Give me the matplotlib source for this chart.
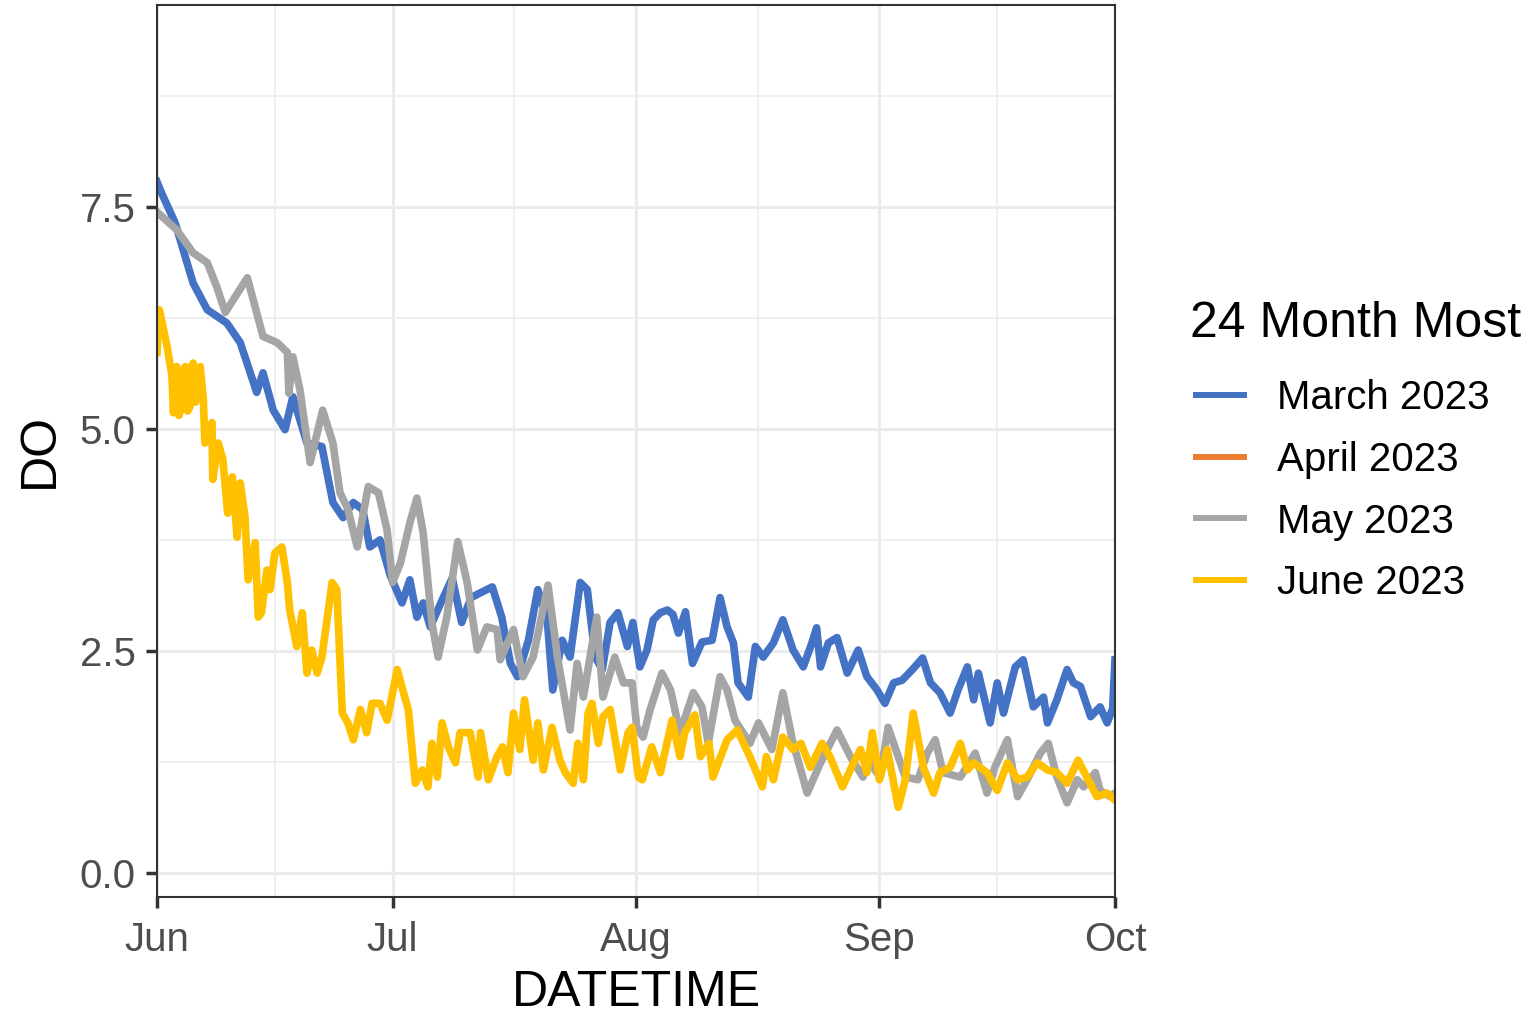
import numpy as np
import pandas as pd
import matplotlib
matplotlib.use("Agg")
import matplotlib.pyplot as plt
import matplotlib.dates as mdates
from matplotlib.lines import Line2D

plt.rcParams['font.family'] = ['Liberation Sans', 'DejaVu Sans']

# days after 2023-06-01 and DO values
march_days = [0, 0.6, 2.3, 4.6, 6.4, 8.9, 10.6, 12.7, 13.5, 14.8, 16.3, 17.3, 19.1, 21, 22.4,
              23.7, 25, 26.2, 27.1, 28.4, 29.7, 31.2, 32.2, 33.1, 33.9, 34.8, 36.3, 37.6,
              38.8, 40, 41.1, 42.7, 43.9, 45, 45.9, 47.3, 48.5, 49.7, 50.4, 51.6, 52.6,
              53.9, 54.8, 55.8, 56.7, 57.7, 58.7, 59.9, 60.6, 61.5, 62.4, 63.2, 64.1, 65,
              65.7, 66.4, 67.3, 68.2, 69.4, 70.7, 71.7, 72.6, 73.4, 74, 75.3, 76.2, 77.2,
              78.5, 79.7, 81, 82.3, 83.4, 84, 84.5, 85.5, 86.6, 87.9, 89.3, 90.4, 91.7,
              92.7, 93.8, 94.9, 96.2, 97.5, 98.5, 99.7, 101, 102, 103.2, 104, 104.6, 106.1,
              107, 107.8, 109.3, 110.3, 111.6, 112.9, 113.4, 114.6, 115.9, 116.7, 117.6,
              118.9, 120.1, 121, 121.7, 122]
march_do = [7.78, 7.65, 7.32, 6.64, 6.34, 6.19, 5.97, 5.41, 5.63, 5.21, 4.99, 5.36, 4.84, 4.80, 4.17,
            4.0, 4.17, 4.09, 3.67, 3.75, 3.35, 3.04, 3.3, 2.88, 3.04, 2.77, 3.07, 3.32,
            2.82, 3.1, 3.15, 3.22, 2.88, 2.36, 2.21, 2.62, 3.19, 2.85, 2.06, 2.62, 2.43,
            3.27, 3.19, 2.43, 2.29, 2.82, 2.93, 2.55, 2.82, 2.32, 2.51, 2.85, 2.93, 2.96,
            2.91, 2.7, 2.94, 2.36, 2.6, 2.62, 3.1, 2.77, 2.59, 2.14, 1.98, 2.55, 2.43,
            2.59, 2.85, 2.51, 2.32, 2.59, 2.76, 2.32, 2.59, 2.65, 2.25, 2.51, 2.21, 2.06,
            1.91, 2.14, 2.17, 2.29, 2.42, 2.14, 2.03, 1.8, 2.06, 2.32, 1.95, 2.25, 1.69,
            2.14, 1.8, 2.32, 2.4, 1.87, 1.98, 1.69, 1.95, 2.29, 2.14, 2.1,
            1.76, 1.87, 1.69, 1.85, 2.4]

may_days = [0, 2.5, 4.6, 6.4, 7.6, 8.7, 9.7, 11.5, 13.5, 15.3, 16.6, 16.8, 17.3, 18.2, 19.5,
            21.1, 22.4, 23.3, 24.3, 25.5, 26.9, 28.2, 29.3, 30, 31, 32.2, 33.1, 33.9, 35,
            35.8, 36.9, 38.3, 39.5, 40.8, 42, 43.3, 43.7, 45.4, 46.6, 47.9, 49.8, 51,
            52.6, 53.5, 54.3, 56, 56.8, 58.3, 59.4, 60.5, 61.1, 61.9, 62.8, 64.3, 65.4,
            66.6, 68.3, 69.4, 70.2, 71.7, 72.6, 73.6, 75.5, 76.6, 78.3, 79.7, 80.9, 82.8,
            84.5, 86.6, 88.3, 89.9, 90.5, 92.1, 93.1, 94.4, 95.3, 96.9, 98.1, 99.1, 100.1,
            102.3, 104.2, 105.7, 106.7, 108.3, 109.6, 110.8, 112.5, 113.5, 114.6, 115.9,
            117.2, 118, 119.5, 120.1, 121.4, 122]
may_do = [7.44, 7.24, 6.98, 6.87, 6.6, 6.31, 6.45, 6.7, 6.04, 5.97, 5.86, 5.4, 5.81, 5.44, 4.62,
          5.21, 4.84, 4.28, 4.1, 3.67, 4.35, 4.28, 3.86, 3.27, 3.49, 3.94, 4.22, 3.83, 2.82,
          2.43, 2.88, 3.73, 3.27, 2.51, 2.77, 2.74, 2.4, 2.74, 2.21, 2.43, 3.24, 2.43,
          1.61, 2.36, 1.98, 2.88, 1.98, 2.43, 2.14, 2.14, 1.64, 1.53, 1.84, 2.25, 2.06,
          1.58, 2.03, 1.87, 1.46, 2.21, 2.06, 1.72, 1.46, 1.69, 1.39, 2.03, 1.5, 0.9,
          1.24, 1.61, 1.31, 1.08, 1.27, 1.08, 1.64, 1.31, 1.08, 1.05, 1.35, 1.5, 1.13,
          1.08, 1.35, 0.9, 1.19, 1.5, 0.86, 1.05, 1.35, 1.46, 1.08, 0.79,
          1.05, 0.97, 1.13, 0.93, 0.86, 0.9]

june_days = [0, 0.3, 1.3, 1.9, 2.1, 2.3, 2.5, 2.8, 3.0, 3.2, 3.4, 3.6, 3.9, 4.2, 4.4, 4.6,
             4.9, 5.2, 5.5, 5.9, 6.1, 7, 7.1, 7.8, 8.4, 9,
             9.6, 10.2, 10.6, 11.2, 11.6, 12.5, 12.9, 13.3, 14, 14.4, 15, 15.9, 16.6, 16.9,
             17.8, 18.5, 19.1, 19.7, 20.4, 21, 21.7, 22.3, 22.9, 23.6, 24.3, 25, 25.9,
             26.7, 27.4, 28.4, 29.3, 30.6, 31.3, 32, 32.9, 33.8, 34.5, 35, 35.7, 36.3,
             37.1, 38, 38.6, 39.9, 40.9, 41.2, 42.2, 43.3, 44, 44.7, 45.4, 46.2, 46.8,
             47.9, 48.5, 49.2, 50.3, 51.3, 52, 53, 53.6, 54.3, 54.9, 55.4, 56.2, 56.8,
             57.7, 59, 60, 60.5, 61.3, 61.8, 63, 64.1, 65.6, 66.6, 67.2, 68.5, 69.2, 70.3,
             70.8, 72.6, 73.9, 75.5, 77.1, 77.6, 78.5, 79.7, 81, 82, 83.2, 84.7, 85.7,
             87.3, 88.7, 89.6, 90.4, 91.1, 92, 93, 94.4, 95.3, 96.3, 97.6, 98.9, 99.7,
             101, 102.3, 103.2, 104, 105.7, 107, 108.3, 109.6, 110.8, 112.1, 113.4, 114.6,
             115.9, 117.3, 118.4, 119.7, 121, 122]
june_do = [5.86, 6.34, 5.92, 5.6, 5.18, 5.65, 5.7, 5.15, 5.6, 5.21, 5.65, 5.7, 5.2, 5.25, 5.7, 5.74,
           5.3, 5.65, 5.7, 5.33, 4.84, 5.07, 4.43, 4.84, 4.65, 4.05,
           4.46, 3.78, 4.39, 4.01, 3.3, 3.72, 2.88, 2.93, 3.41, 3.19, 3.6, 3.67, 3.27, 2.96,
           2.55, 2.93, 2.25, 2.51, 2.25, 2.43, 2.88, 3.27, 3.19, 1.8, 1.69, 1.5, 1.84,
           1.58, 1.91, 1.91, 1.72, 2.29, 2.06, 1.84, 1.01, 1.16, 0.97, 1.46, 1.08, 1.69,
           1.42, 1.24, 1.58, 1.58, 1.08, 1.58, 1.05, 1.31, 1.42, 1.13, 1.8, 1.39, 1.95,
           1.27, 1.69, 1.16, 1.64, 1.27, 1.13, 1.01, 1.46, 1.05, 1.8, 1.91, 1.46, 1.76,
           1.84, 1.16, 1.58, 1.64, 1.08, 1.05, 1.42, 1.13, 1.72, 1.31, 1.58, 1.78, 1.31, 1.46,
           1.08, 1.5, 1.61, 1.31, 0.97, 1.31, 1.05, 1.53, 1.39, 1.46, 1.19, 1.46, 1.31,
           0.97, 1.24, 1.39, 1.13, 1.58, 1.05, 1.39, 0.74, 1.05, 1.8, 1.19, 0.9, 1.13,
           1.19, 1.46, 1.16, 1.24, 1.13, 0.93, 1.24, 1.05, 1.08, 1.24, 1.16, 1.13,
           1.01, 1.27, 1.08, 0.86, 0.9, 0.82]

labels = ['March 2023', 'April 2023', 'May 2023', 'June 2023']
colors = ['#4472C4', '#ED7D31', '#A5A5A5', '#FFC000']

start = pd.Timestamp('2023-06-01')


def to_dates(days):
    return start + pd.to_timedelta(np.array(days), unit='D')


fig = plt.figure(figsize=(15.35, 10.15), dpi=100)
ax = fig.add_axes([157 / 1535, 118 / 1015, 958 / 1535, 892 / 1015])

lw = 5.5
ax.plot(to_dates(march_days), march_do, color=colors[0], lw=lw, solid_joinstyle='round')
ax.plot(to_dates(may_days), may_do, color=colors[2], lw=lw, solid_joinstyle='round')
ax.plot(to_dates(june_days), june_do, color=colors[3], lw=lw, solid_joinstyle='round')

ax.set_xlim(start, pd.Timestamp('2023-10-01'))
ax.set_ylim(-0.27, 9.77)

months = pd.date_range('2023-06-01', '2023-10-01', freq='MS')
ax.set_xticks(months)
ax.xaxis.set_major_formatter(mdates.DateFormatter('%b'))
ax.set_xticks(months[:-1] + (months[1:] - months[:-1]) / 2, minor=True)
ax.set_yticks([0, 2.5, 5.0, 7.5])
ax.set_yticklabels(['0.0', '2.5', '5.0', '7.5'])
ax.set_yticks([1.25, 3.75, 6.25, 8.75], minor=True)

ax.grid(which='major', color='#EBEBEB', lw=2.2)
ax.grid(which='minor', color='#EBEBEB', lw=1.1)
ax.set_axisbelow(True)
for s in ax.spines.values():
    s.set_color('#333333')
    s.set_linewidth(1.5)

ax.tick_params(which='major', length=8, width=2.5, color='#333333',
               labelsize=29, labelcolor='#4D4D4D')
ax.tick_params(axis='y', pad=7.5)
ax.tick_params(axis='x', pad=9)
ax.tick_params(which='minor', length=0)

ax.set_xlabel('DATETIME', fontsize=36, labelpad=8)
ax.set_ylabel('DO', fontsize=36, labelpad=12)

fig.text(1190 / 1535, 1 - 337 / 1015, '24 Month Most', fontsize=36, va='baseline', ha='left')
handles = [Line2D([], [], color=c, lw=4.3) for c in colors]
leg = fig.legend(handles, labels, loc='upper left',
                 bbox_to_anchor=(1196 / 1535, 1 - 379 / 1015), frameon=False,
                 fontsize=29, borderaxespad=0, borderpad=0,
                 handlelength=1.2, handletextpad=0.8, labelspacing=0.59)

fig.savefig('out.png', dpi=100)
